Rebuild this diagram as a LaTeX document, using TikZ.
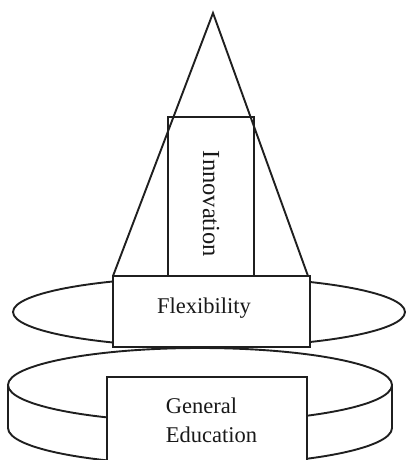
\documentclass[tikz,border=0pt]{standalone}
\usepackage{fontspec}
\setmainfont{Liberation Serif}
\begin{document}
\begin{tikzpicture}[x=1pt,y=-1pt,line width=1.9pt,
  outline/.style={draw=black!88,line join=miter},
  box/.style={draw=black!88,fill=white},
  lbl/.style={font=\fontsize{22.5}{26}\selectfont,inner sep=0pt,text=black!90}]
\useasboundingbox (0,0) rectangle (406,460);
\clip (0,0) rectangle (406,460);
% lower cylinder
\draw[outline] (8,385) -- (8,428) arc[start angle=180,end angle=360,x radius=192,y radius=-37] -- (392,385);
\draw[outline] (200,385) ellipse[x radius=192,y radius=37];
\draw[box] (107,377) rectangle (307,470);
\node[lbl,anchor=base west] (ge1) at (165,413) {General};
\node[lbl,anchor=base west] (ge2) at (165,442) {Education};
% upper ring
\draw[outline] (209,312) ellipse[x radius=196,y radius=35];
\draw[box] (113,276) rectangle (310,347);
\node[lbl,anchor=base] (flex) at (204,313) {Flexibility};
% cone
\draw[outline] (113,276) -- (213,13) -- (308,276);
\draw[outline] (168,117) rectangle (254,276);
\node[lbl,font=\fontsize{24.5}{28}\selectfont,rotate=-90] (inno) at (211,204) {Innovation};
\end{tikzpicture}
\end{document}
